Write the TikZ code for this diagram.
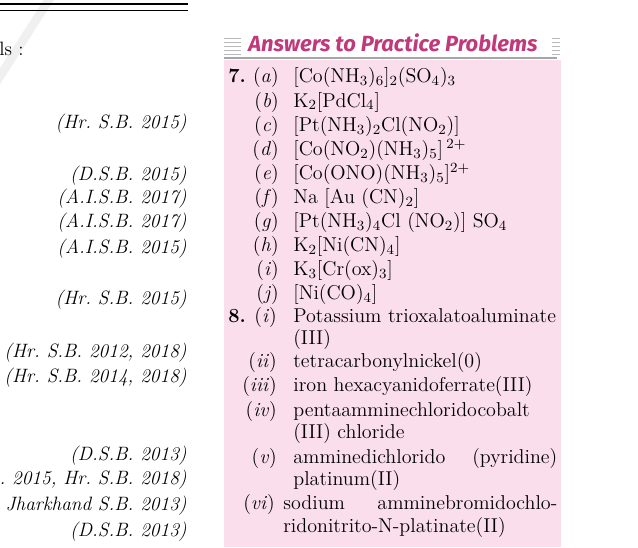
\documentclass[tikz,border=0pt]{standalone}
\usepackage{fontspec}
\newfontfamily\headfont{Fira Sans}
\definecolor{boxpink}{RGB}{250,222,236}
\definecolor{headpink}{RGB}{193,57,123}
\frenchspacing

\begin{document}
\begin{tikzpicture}[x=0.02cm,y=-0.02cm,
  cite/.style={anchor=base east,inner sep=0,font=\fontsize{11}{13}\selectfont\itshape},
  lbl/.style={anchor=base east,inner sep=0,font=\fontsize{11.4}{13}\selectfont},
  ans/.style={anchor=base west,inner sep=0,font=\fontsize{11.4}{13}\selectfont},
  num/.style={anchor=base west,inner sep=0,font=\fontsize{11.4}{13}\selectfont\bfseries}]
\useasboundingbox (0,0) rectangle (638,547);
\clip (0,0) rectangle (638,547);

% watermark and top rules
\draw[line width=5pt,gray!12] (-5,84) -- (52,-5);
\draw[line width=0.8pt] (0,4) -- (188,4);
\draw[line width=0.8pt] (0,10.5) -- (188,10.5);
\node[ans,font=\fontsize{11}{13}\selectfont] (intro) at (-1,56) {ls :};

% left column: sources
\node[cite] (s1) at (187,129) {(Hr. S.B. 2015)};
\node[cite] (s2) at (187,180) {(D.S.B. 2015)};
\node[cite] (s3) at (187,203) {(A.I.S.B. 2017)};
\node[cite] (s4) at (187,227) {(A.I.S.B. 2017)};
\node[cite] (s5) at (187,253) {(A.I.S.B. 2015)};
\node[cite] (s6) at (187,304) {(Hr. S.B. 2015)};
\node[cite] (s7) at (187,357) {(Hr. S.B. 2012, 2018)};
\node[cite] (s8) at (187,382) {(Hr. S.B. 2014, 2018)};
\node[cite] (s9) at (187,460) {(D.S.B. 2013)};
\node[cite] (s10) at (187,484) {. 2015, Hr. S.B. 2018)};
\node[cite] (s11) at (187,510) {Jharkhand S.B. 2013)};
\node[cite] (s12) at (187,536) {(D.S.B. 2013)};

% answer box
\fill[boxpink] (224,60) rectangle (561,547);
\draw[gray!70,line width=0.9pt] (224,58) -- (557,58);
\foreach \y in {38,42,46,50,54} {
  \draw[gray!55,line width=0.4pt] (224,\y) -- (241,\y);
  \draw[gray!55,line width=0.4pt] (552,\y) -- (560,\y);
}
\node[anchor=base,inner sep=0,text=headpink,font=\headfont\fontsize{12.5}{14}\selectfont\bfseries\itshape] (head) at (393,52) {Answers to Practice Problems};

% question 7
\node[num] (n7) at (228,83) {7.};
\node[lbl] (l7a) at (279,83) {(\textit{a})};
\node[ans] (a7a) at (293,83) {[Co(NH$_3$)$_6$]$_2$(SO$_4$)$_3$};
\node[lbl] (l7b) at (279,107.1) {(\textit{b})};
\node[ans] (a7b) at (293,107.1) {K$_2$[PdCl$_4$]};
\node[lbl] (l7c) at (279,131.2) {(\textit{c})};
\node[ans] (a7c) at (293,131.2) {[Pt(NH$_3$)$_2$Cl(NO$_2$)]};
\node[lbl] (l7d) at (279,155.3) {(\textit{d})};
\node[ans] (a7d) at (293,155.3) {[Co(NO$_2$)(NH$_3$)$_5$]\,$^{2+}$};
\node[lbl] (l7e) at (279,179.4) {(\textit{e})};
\node[ans] (a7e) at (293,179.4) {[Co(ONO)(NH$_3$)$_5$]$^{2+}$};
\node[lbl] (l7f) at (279,203.5) {(\textit{f})};
\node[ans] (a7f) at (293,203.5) {Na [Au (CN)$_2$]};
\node[lbl] (l7g) at (279,227.6) {(\textit{g})};
\node[ans] (a7g) at (293,227.6) {[Pt(NH$_3$)$_4$Cl (NO$_2$)] SO$_4$};
\node[lbl] (l7h) at (279,251.7) {(\textit{h})};
\node[ans] (a7h) at (293,251.7) {K$_2$[Ni(CN)$_4$]};
\node[lbl] (l7i) at (279,275.8) {(\textit{i})};
\node[ans] (a7i) at (293,275.8) {K$_3$[Cr(ox)$_3$]};
\node[lbl] (l7j) at (279,299.9) {(\textit{j})};
\node[ans] (a7j) at (293,299.9) {[Ni(CO)$_4$]};

% question 8
\node[num] (n8) at (228,322) {8.};
\node[lbl] (l8i) at (277,322) {(\textit{i})};
\node[ans] (a8i) at (293,322) {Potassium trioxalatoaluminate};
\node[ans] (a8ib) at (293,344) {(III)};
\node[lbl] (l8ii) at (277,367) {(\textit{ii})};
\node[ans] (a8ii) at (293,367) {tetracarbonylnickel(0)};
\node[lbl] (l8iii) at (277,391) {(\textit{iii})};
\node[ans] (a8iii) at (293,391) {iron hexacyanidoferrate(III)};
\node[lbl] (l8iv) at (277,416) {(\textit{iv})};
\node[ans] (a8iv) at (293,416) {pentaamminechloridocobalt};
\node[ans] (a8ivb) at (293,438) {(III) chloride};
\node[lbl] (l8v) at (277,463) {(\textit{v})};
\node[ans] (a8v) at (293,463) {\makebox[5.28cm][s]{amminedichlorido (pyridine)}};
\node[ans] (a8vb) at (293,485) {platinum(II)};
\node[lbl] (l8vi) at (275,509) {(\textit{vi})};
\node[ans] (a8vi) at (283,509) {\makebox[5.48cm][s]{sodium amminebromidochlo-}};
\node[ans] (a8vib) at (283,532) {ridonitrito-N-platinate(II)};
\end{tikzpicture}
\end{document}
